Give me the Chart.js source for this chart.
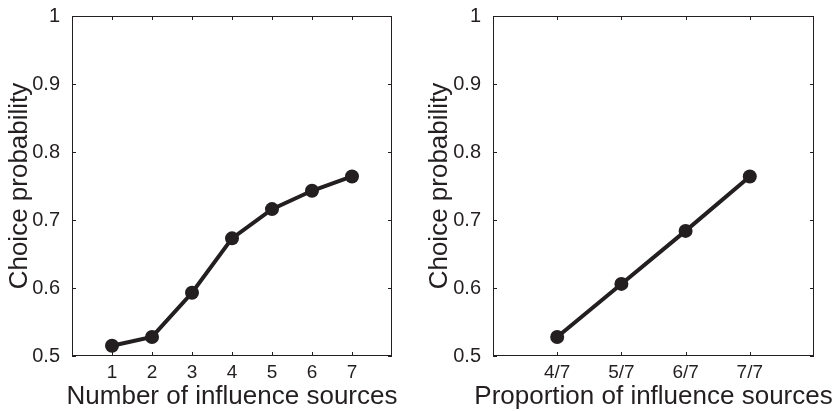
<!DOCTYPE html>
<html>
<head>
<meta charset="utf-8">
<script src="https://cdn.jsdelivr.net/npm/chart.js@4/dist/chart.umd.min.js"></script>
<style>
  body { margin: 0; background: #fff; }
  .panel { position: absolute; top: 0; }
</style>
</head>
<body>
<div class="panel" style="left:0"><canvas id="leftChart" width="420" height="411"></canvas></div>
<div class="panel" style="left:420px"><canvas id="rightChart" width="419" height="411"></canvas></div>
<script>
// Datos
const sourceCounts = [1, 2, 3, 4, 5, 6, 7];
const probBySources = [0.515, 0.528, 0.593, 0.673, 0.716, 0.743, 0.764];

const proportionPos = [4, 5, 6, 7];
const proportionLabels = ['4/7', '5/7', '6/7', '7/7'];
const probByProportion = [0.528, 0.606, 0.684, 0.764];

const yTicks = [0.5, 0.6, 0.7, 0.8, 0.9, 1];

const ink = '#231f20';
const fontFamily = '"Liberation Sans", Arial, sans-serif';

// caixa + ticks para dentro nos quatro lados
const boxTicks = {
  id: 'boxTicks',
  beforeDatasetsDraw(chart) {
    const { ctx, chartArea: a, scales } = chart;
    const len = 4;
    ctx.save();
    ctx.strokeStyle = ink;
    ctx.lineWidth = 1;
    ctx.strokeRect(a.left + 0.5, a.top + 0.5, a.right - a.left - 1, a.bottom - a.top - 1);
    ctx.beginPath();
    scales.x.ticks.forEach(t => {
      const px = Math.round(scales.x.getPixelForValue(t.value)) + 0.5;
      ctx.moveTo(px, a.bottom); ctx.lineTo(px, a.bottom - len);
      ctx.moveTo(px, a.top); ctx.lineTo(px, a.top + len);
    });
    scales.y.ticks.forEach(t => {
      const py = Math.round(scales.y.getPixelForValue(t.value)) + 0.5;
      ctx.moveTo(a.left, py); ctx.lineTo(a.left + len, py);
      ctx.moveTo(a.right, py); ctx.lineTo(a.right - len, py);
    });
    ctx.stroke();
    ctx.restore();
  },
  // titulo do eixo x sem o maxWidth do Chart.js (o texto é mais largo que o eixo)
  afterDraw(chart, args, opts) {
    const { ctx, chartArea: a } = chart;
    ctx.save();
    ctx.fillStyle = ink;
    ctx.font = '26px ' + fontFamily;
    ctx.textAlign = 'center';
    ctx.textBaseline = 'alphabetic';
    ctx.fillText(opts.text, (a.left + a.right) / 2, 404);
    ctx.restore();
  }
};

function makeChart(id, xs, ys, opts) {
  const points = xs.map((x, i) => ({ x: x, y: ys[i] }));
  return new Chart(document.getElementById(id).getContext('2d'), {
    type: 'line',
    data: {
      datasets: [{
        data: points,
        borderColor: ink,
        backgroundColor: ink,
        borderWidth: 4,
        pointRadius: 7,
        pointBorderWidth: 0,
        pointBackgroundColor: ink,
        tension: 0
      }]
    },
    options: {
      responsive: false,
      animation: false,
      events: [],
      layout: { padding: { top: 14, right: opts.padRight, left: 0, bottom: 0 } },
      plugins: {
        legend: { display: false },
        tooltip: { enabled: false },
        boxTicks: { text: opts.xTitle }
      },
      scales: {
        x: {
          type: 'linear',
          min: opts.xMin,
          max: opts.xMax,
          grid: { display: false },
          border: { display: false },
          afterBuildTicks: s => { s.ticks = opts.xTicks.map(v => ({ value: v })); },
          afterFit: s => { s.height = 55; },
          ticks: {
            padding: -3,
            color: ink,
            font: { family: fontFamily, size: 19 },
            maxRotation: 0,
            callback: opts.xLabel
          },
          title: { display: false }
        },
        y: {
          min: 0.5,
          max: 1,
          grid: { display: false },
          border: { display: false },
          afterBuildTicks: s => { s.ticks = yTicks.map(v => ({ value: v })); },
          afterFit: s => { s.width = opts.yWidth; },
          ticks: {
            padding: 4,
            color: ink,
            font: { family: fontFamily, size: 20 },
            callback: v => (v === 1 ? '1' : v.toFixed(1))
          },
          title: {
            display: true,
            text: 'Choice probability',
            color: ink,
            font: { family: fontFamily, size: 26 },
            padding: { top: 4, bottom: 0 }
          }
        }
      }
    },
    plugins: [boxTicks]
  });
}

makeChart('leftChart', sourceCounts, probBySources, {
  xMin: 0, xMax: 8, xTicks: sourceCounts,
  xLabel: v => String(v),
  xTitle: 'Number of influence sources',
  yWidth: 72, padRight: 28
});

makeChart('rightChart', proportionPos, probByProportion, {
  xMin: 3, xMax: 8, xTicks: proportionPos,
  xLabel: v => proportionLabels[proportionPos.indexOf(v)],
  xTitle: 'Proportion of influence sources',
  yWidth: 73, padRight: 25
});
</script>
</body>
</html>
